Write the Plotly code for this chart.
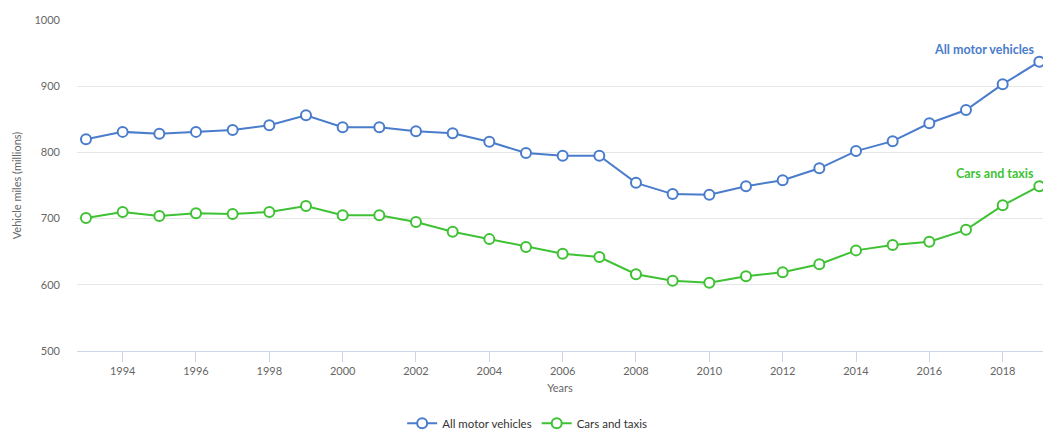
import plotly.graph_objects as go

years = list(range(1993, 2020))
all_motor = [820, 831, 828, 831, 834, 841, 856, 838, 838, 832, 829, 816, 799, 795, 795,
             754, 737, 736, 749, 758, 776, 802, 817, 844, 864, 903, 937]
cars_taxis = [701, 710, 704, 708, 707, 710, 719, 705, 705, 695, 680, 669, 657, 647, 642,
              616, 606, 603, 613, 619, 631, 652, 660, 665, 683, 720, 749]
series_names = ["All motor vehicles", "Cars and taxis"]
colors = ["#4a7ccc", "#3ec234"]
x_ticks = list(range(1994, 2019, 2))
y_ticks = [500, 600, 700, 800, 900, 1000]

fig = go.Figure()
for name, vals, col in zip(series_names, [all_motor, cars_taxis], colors):
    fig.add_trace(go.Scatter(
        x=years, y=vals, name=name, mode="lines+markers",
        line=dict(color=col, width=2),
        marker=dict(symbol="circle", size=10, color="white", line=dict(color=col, width=2)),
        cliponaxis=False,
    ))
    fig.add_annotation(x=years[-1], y=vals[-1], text="<b>" + name + "</b>",
                       xref="x", yref="y", xanchor="right", yanchor="bottom",
                       xshift=-3, yshift=3, showarrow=False,
                       font=dict(color=col, size=12.5, family="Lato"))

fig.update_layout(
    width=1043, height=432,
    margin=dict(l=77, r=0, t=20, b=81),
    paper_bgcolor="white", plot_bgcolor="white",
    font=dict(family="Lato", color="#666666", size=11),
    showlegend=True,
    legend=dict(orientation="h", x=0.466, xanchor="center", xref="paper",
                yref="container", y=0.02, yanchor="middle",
                font=dict(size=11.5, color="#333333"), itemwidth=30),
    xaxis=dict(range=[1992.755, 2019.1], tickmode="array", tickvals=x_ticks,
               showgrid=False, showline=True, linecolor="#ccd6eb", linewidth=1,
               ticks="outside", ticklen=10, tickcolor="#ccd6eb",
               title=dict(text="Years", font=dict(size=11, color="#666666"), standoff=8),
               zeroline=False),
    yaxis=dict(range=[500, 1000], tickmode="array", tickvals=y_ticks,
               showgrid=True, gridcolor="#e6e6e6", gridwidth=1,
               showline=False, zeroline=False, ticks="", ticklabelstandoff=16,
               title=dict(text="Vehicle miles (millions)", font=dict(size=11, color="#666666"), standoff=10)),
)

fig.write_html("out.html", config={"displayModeBar": False},
               post_script="document.body.style.margin='0';document.body.style.overflow='hidden';")
